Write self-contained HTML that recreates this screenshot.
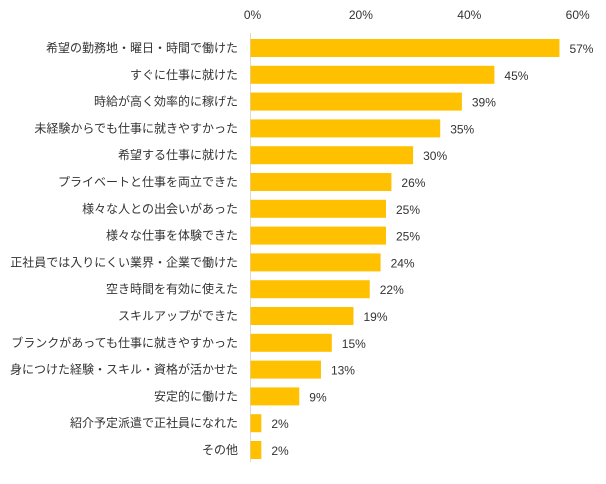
<!DOCTYPE html>
<html><head><meta charset="utf-8"><style>
body{margin:0;background:#fff;}
svg text{font-family:"Liberation Sans","Noto Sans CJK JP",sans-serif;fill:#333;}
</style></head><body>
<svg id="chart" width="606" height="479" xmlns="http://www.w3.org/2000/svg"></svg>
<script>
const categories=["希望の勤務地・曜日・時間で働けた","すぐに仕事に就けた","時給が高く効率的に稼げた","未経験からでも仕事に就きやすかった","希望する仕事に就けた","プライベートと仕事を両立できた","様々な人との出会いがあった","様々な仕事を体験できた","正社員では入りにくい業界・企業で働けた","空き時間を有効に使えた","スキルアップができた","ブランクがあっても仕事に就きやすかった","身につけた経験・スキル・資格が活かせた","安定的に働けた","紹介予定派遣で正社員になれた","その他"];
const values=[57,45,39,35,30,26,25,25,24,22,19,15,13,9,2,2];
const ticks=[0,20,40,60];
const svg=document.getElementById('chart');
const NS='http://www.w3.org/2000/svg';
const x0=250.5,pxPer=5.42,y0=48,step=26.8,bh=18;
const xs=v=>x0+v*pxPer;
const ys=i=>y0+i*step;
function mk(t,a){const e=document.createElementNS(NS,t);for(const k in a)e.setAttribute(k,a[k]);svg.appendChild(e);return e;}
ticks.forEach(t=>{
 const e=mk('text',{x:xs(t)+2,y:19,'text-anchor':'middle','font-size':12});
 e.textContent=t+'%';
 
 
});
const ax=mk('line',{x1:x0,x2:x0,y1:33,y2:462,stroke:'#d9d9d9','stroke-width':1});


categories.forEach((c,i)=>{
 const cy=ys(i);
 const r=mk('rect',{x:x0,y:cy-bh/2,width:values[i]*pxPer,height:bh,fill:'#FFC000'});
 
 
 const l=mk('text',{x:238,y:cy+4,'text-anchor':'end','font-size':12});
 l.textContent=c;
 
 
 const v=mk('text',{x:xs(values[i])+10,y:cy+5,'font-size':12});
 v.textContent=values[i]+'%';
 
 
});
</script>
</body></html>
